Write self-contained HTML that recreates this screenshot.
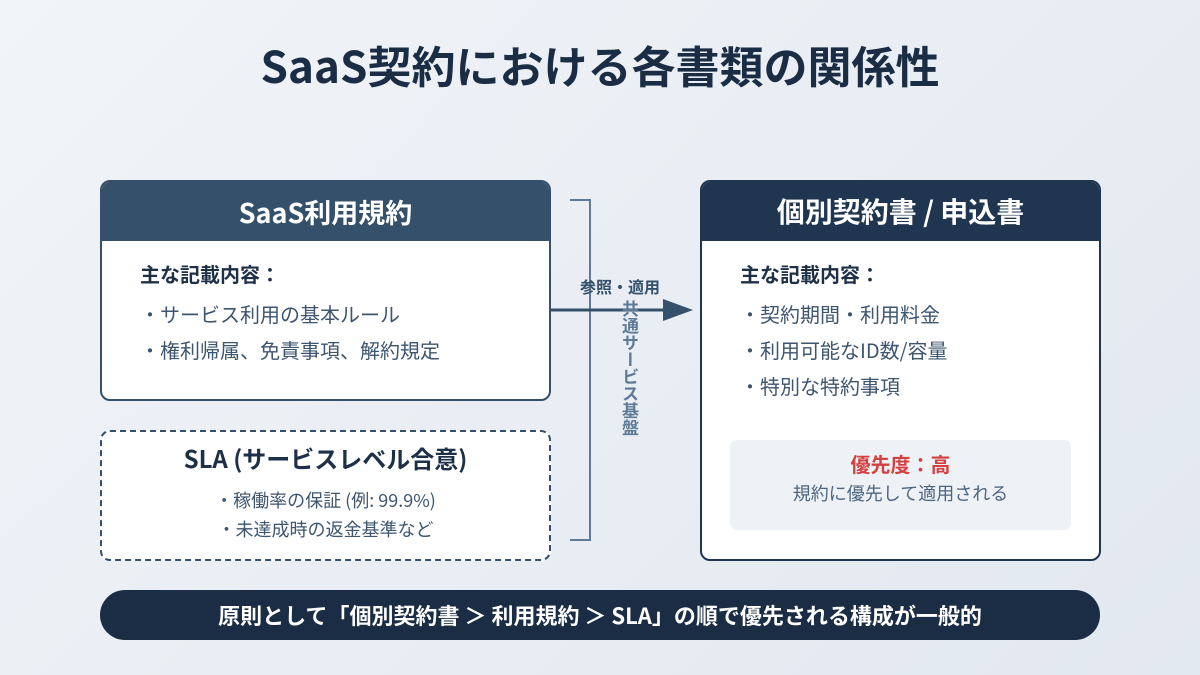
<!DOCTYPE html>
<html><head><meta charset="utf-8"><style>
*{margin:0;padding:0;box-sizing:border-box}
body{width:1200px;height:675px;position:relative;overflow:hidden;font-family:"Noto Sans CJK JP","Liberation Sans",sans-serif;background:linear-gradient(135deg,#f1f4f8 0%,#e2e8f0 100%);color:#1e3048}
.abs{position:absolute}
.title{left:0;width:1200px;top:32px;text-align:center;font-size:44px;font-weight:bold;color:#1a2d45;line-height:64px}
.box{background:#fff;border:2px solid #34506b;border-radius:10px;overflow:hidden}
.hdr{height:59px;color:#fff;font-size:27px;font-weight:bold;text-align:center;line-height:59px}
.t{font-size:20px;font-weight:bold;color:#1e3048;line-height:28px}
.li{font-size:20px;color:#3e5570;line-height:28px}
</style></head><body>
<div class="abs title">SaaS契約における各書類の関係性</div>

<div class="abs box" style="left:100px;top:180px;width:451px;height:221px">
 <div class="hdr" style="background:#34506b">SaaS利用規約</div>
 <div class="abs t" style="left:38px;top:78px">主な記載内容：</div>
 <div class="abs li" style="left:38px;top:118px">・サービス利用の基本ルール</div>
 <div class="abs li" style="left:38px;top:154px">・権利帰属、免責事項、解約規定</div>
</div>

<div class="abs" style="left:100px;top:430px;width:451px;height:131px;border:2px dashed #34506b;border-radius:10px;background:#fff">
 <div class="abs" style="left:0;width:447px;top:9px;text-align:center;font-size:24px;font-weight:bold;color:#1e3048;line-height:34px">SLA (サービスレベル合意)</div>
 <div class="abs" style="left:0;width:447px;top:55px;text-align:center;font-size:18px;color:#3e5570;line-height:26px">・稼働率の保証 (例: 99.9%)</div>
 <div class="abs" style="left:0;width:447px;top:84px;text-align:center;font-size:18px;color:#3e5570;line-height:26px">・未達成時の返金基準など</div>
</div>

<svg class="abs" style="left:0;top:0" width="1200" height="675">
 <polyline points="570,200 590,200 590,540 570,540" fill="none" stroke="#5e7a96" stroke-width="2"/>
 <line x1="551" y1="310" x2="668" y2="310" stroke="#34506b" stroke-width="3"/>
 <polygon points="663,299 693,310 663,321" fill="#34506b"/>
</svg>
<div class="abs" style="left:580px;top:274px;font-size:16px;font-weight:bold;color:#34506b;line-height:24px">参照・適用</div>
<div class="abs" style="left:620px;top:300px;writing-mode:vertical-rl;text-orientation:upright;font-size:17px;line-height:20px;font-weight:bold;color:#5e7a96">共通サービス基盤</div>

<div class="abs box" style="left:700px;top:180px;width:401px;height:381px;border-color:#1f3550">
 <div class="hdr" style="background:#1f3550;font-size:28px">個別契約書 / 申込書</div>
 <div class="abs t" style="left:38px;top:78px">主な記載内容：</div>
 <div class="abs li" style="left:38px;top:118px">・契約期間・利用料金</div>
 <div class="abs li" style="left:38px;top:154px">・利用可能なID数/容量</div>
 <div class="abs li" style="left:38px;top:190px">・特別な特約事項</div>
 <div class="abs" style="left:28px;top:258px;width:341px;height:90px;background:#eef2f7;border-radius:7px">
  <div style="text-align:center;margin-top:10px;font-size:20px;font-weight:bold;color:#d43f3f;line-height:28px">優先度：高</div>
  <div style="text-align:center;margin-top:2px;font-size:18px;color:#4e6580;line-height:26px">規約に優先して適用される</div>
 </div>
</div>

<div class="abs" style="left:100px;top:590px;width:1000px;height:50px;background:#1a2d45;border-radius:25px;color:#fff;font-size:22px;font-weight:bold;text-align:center;line-height:50px">原則として「個別契約書 ＞ 利用規約 ＞ SLA」の順で優先される構成が一般的</div>
</body></html>
